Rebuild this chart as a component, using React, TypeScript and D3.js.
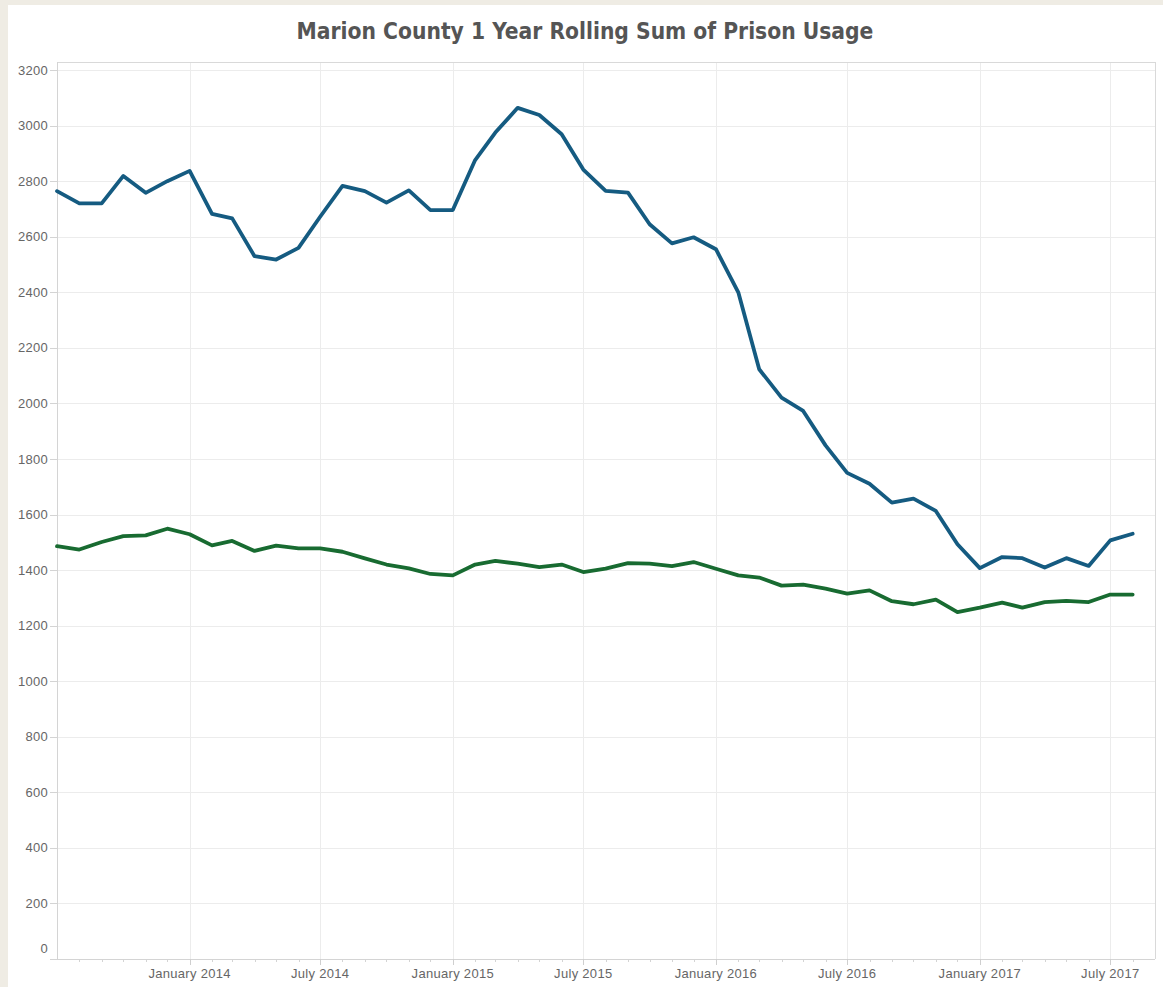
import React from "react";
import * as d3 from "d3";

const months: string[] = [
  "2013-07","2013-08","2013-09","2013-10","2013-11","2013-12",
  "2014-01","2014-02","2014-03","2014-04","2014-05","2014-06",
  "2014-07","2014-08","2014-09","2014-10","2014-11","2014-12",
  "2015-01","2015-02","2015-03","2015-04","2015-05","2015-06",
  "2015-07","2015-08","2015-09","2015-10","2015-11","2015-12",
  "2016-01","2016-02","2016-03","2016-04","2016-05","2016-06",
  "2016-07","2016-08","2016-09","2016-10","2016-11","2016-12",
  "2017-01","2017-02","2017-03","2017-04","2017-05","2017-06",
  "2017-07","2017-08",
];

const blueSeries: number[] = [
  2764, 2720, 2720, 2819, 2758, 2800,
  2837, 2682, 2666, 2530, 2518, 2560,
  2672, 2783, 2764, 2723, 2767, 2696,
  2696, 2876, 2975, 3064, 3038, 2969,
  2842, 2765, 2759, 2645, 2576, 2598,
  2555, 2400, 2123, 2021, 1973, 1849,
  1750, 1711, 1643, 1657, 1613, 1493,
  1407, 1447, 1443, 1409, 1443, 1415,
  1507, 1531,
];

const greenSeries: number[] = [
  1486, 1474, 1501, 1522, 1525, 1549,
  1529, 1489, 1505, 1469, 1488, 1478,
  1478, 1466, 1442, 1420, 1406, 1386,
  1381, 1420, 1433, 1423, 1411, 1420,
  1393, 1405, 1425, 1423, 1414, 1429,
  1405, 1381, 1373, 1344, 1348, 1333,
  1315, 1327, 1288, 1277, 1294, 1249,
  1265, 1283, 1265, 1285, 1289, 1285,
  1312, 1312,
];

const yTicks: number[] = [0, 200, 400, 600, 800, 1000, 1200, 1400, 1600, 1800, 2000, 2200, 2400, 2600, 2800, 3000, 3200];
const xTickLabels: string[] = ["2014-01", "2014-07", "2015-01", "2015-07", "2016-01", "2016-07", "2017-01", "2017-07"];

const title = "Marion County 1 Year Rolling Sum of Prison Usage";

const parse = d3.timeParse("%Y-%m");
const fmt = d3.timeFormat("%B %Y");

export default function App() {
  const W = 1163, H = 987;
  const left = 57, right = 1155, top = 62, bottom = 959;

  const x = d3.scaleTime()
    .domain([new Date(2013, 6, 1), new Date(2017, 8, 1)])
    .range([left, right]);
  const y = d3.scaleLinear().domain([0, 3229]).range([bottom, top]);

  const dates = months.map((m) => parse(m) as Date);
  const line = d3.line<number>()
    .x((_, i) => x(dates[i]))
    .y((d) => y(d));

  const minorTicks = d3.timeMonth.range(new Date(2013, 7, 1), new Date(2017, 8, 1));
  const majorDates = xTickLabels.map((m) => parse(m) as Date);

  const labelFont = "'Liberation Sans', Arial, sans-serif";

  return (
    <svg width={W} height={H} style={{ position: "absolute", left: 0, top: 0, display: "block" }}>
      <rect x={0} y={0} width={W} height={H} fill="#efece4" />
      <rect x={8} y={5} width={W - 8} height={H - 5} fill="#ffffff" />

      <text
        x={585}
        y={39}
        textAnchor="middle"
        fontFamily="'DejaVu Sans Condensed', 'DejaVu Sans', sans-serif"
        fontWeight="bold"
        fontSize={22.6}
        fill="#555555"
      >
        {title}
      </text>

      {/* horizontal gridlines */}
      {yTicks.map((t) => (
        <line key={"hg" + t} x1={left} x2={right} y1={Math.round(y(t)) + 0.5} y2={Math.round(y(t)) + 0.5} stroke="#ececec" strokeWidth={1} />
      ))}
      {/* vertical gridlines */}
      {majorDates.map((d, i) => (
        <line key={"vg" + i} x1={Math.round(x(d)) + 0.5} x2={Math.round(x(d)) + 0.5} y1={top} y2={bottom} stroke="#ececec" strokeWidth={1} />
      ))}

      {/* plot border top/right */}
      <line x1={left} x2={right} y1={top + 0.5} y2={top + 0.5} stroke="#d9d9d9" />
      <line x1={right + 0.5} x2={right + 0.5} y1={top} y2={bottom} stroke="#d9d9d9" />

      {/* axes */}
      <line x1={left + 0.5} x2={left + 0.5} y1={top} y2={bottom} stroke="#d4d4d4" strokeWidth={1} />
      <line x1={50} x2={right} y1={bottom + 0.5} y2={bottom + 0.5} stroke="#d4d4d4" strokeWidth={1} />

      {/* y ticks & labels */}
      {yTicks.map((t) => (
        <g key={"yt" + t}>
          <line x1={50} x2={left} y1={Math.round(y(t)) + 0.5} y2={Math.round(y(t)) + 0.5} stroke="#d4d4d4" />
          <text
            x={48}
            y={y(t) + (t === 0 ? -11 : 0)}
            dy="0.35em"
            textAnchor="end"
            fontFamily={labelFont}
            fontSize={13}
            letterSpacing={0.3}
            fill="#666666"
          >
            {t}
          </text>
        </g>
      ))}

      {/* x minor ticks */}
      {minorTicks.map((d, i) => (
        <line key={"mt" + i} x1={Math.round(x(d)) + 0.5} x2={Math.round(x(d)) + 0.5} y1={bottom} y2={bottom + 3} stroke="#d4d4d4" />
      ))}
      {/* x major ticks & labels */}
      {majorDates.map((d, i) => (
        <g key={"xt" + i}>
          <line x1={Math.round(x(d)) + 0.5} x2={Math.round(x(d)) + 0.5} y1={bottom} y2={bottom + 6} stroke="#cfcfcf" />
          <text x={x(d)} y={978} textAnchor="middle" fontFamily={labelFont} fontSize={13} letterSpacing={0.3} fill="#666666">
            {fmt(d)}
          </text>
        </g>
      ))}

      {/* series */}
      <path d={line(greenSeries) || ""} fill="none" stroke="#186b31" strokeWidth={3.8} strokeLinejoin="round" strokeLinecap="round" />
      <path d={line(blueSeries) || ""} fill="none" stroke="#155b81" strokeWidth={3.8} strokeLinejoin="round" strokeLinecap="round" />
    </svg>
  );
}
